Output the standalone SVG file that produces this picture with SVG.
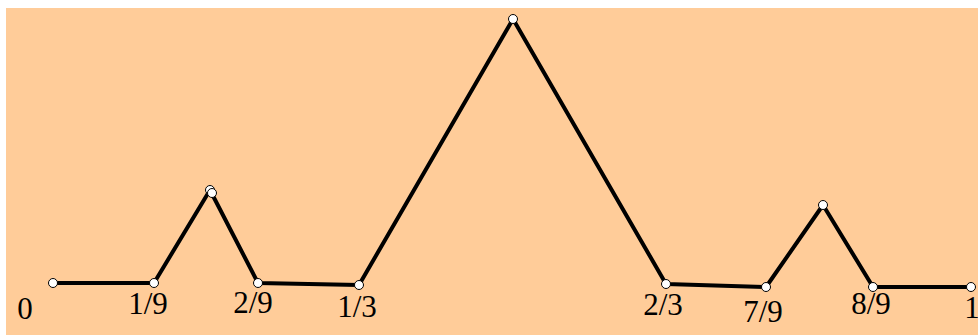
<svg xmlns="http://www.w3.org/2000/svg" width="978" height="335" viewBox="0 0 978 335">
<style>
.lbl{font-family:"Liberation Serif","Times New Roman",serif;font-size:31px;fill:#000;text-anchor:middle}
.pt{fill:#fff;stroke:#000;stroke-width:1}
.ln{fill:none;stroke:#000;stroke-width:4;stroke-linejoin:round}
</style>
<rect x="6" y="8" width="972" height="327" fill="#ffcc99"/>
<g id="connectors">
<polyline class="ln" points="53,283 154,283 210,190 258,283 359,285 513,19 666,284 766,287 823,205 873,287 971,287"/>
</g>
<g id="n0"><circle class="pt" cx="53" cy="283" r="4.5"/><text class="lbl" x="25" y="319">0</text></g>
<g id="n1"><circle class="pt" cx="154" cy="283" r="4.5"/><text class="lbl" x="148" y="314">1/9</text></g>
<g id="p1"><circle class="pt" cx="210" cy="190" r="4.5"/><circle class="pt" cx="212" cy="193" r="4.5"/></g>
<g id="n2"><circle class="pt" cx="258" cy="283" r="4.5"/><text class="lbl" x="253" y="313">2/9</text></g>
<g id="n3"><circle class="pt" cx="359" cy="285" r="4.5"/><text class="lbl" x="357" y="317">1/3</text></g>
<g id="p2"><circle class="pt" cx="513" cy="19" r="4.5"/></g>
<g id="n4"><circle class="pt" cx="666" cy="284" r="4.5"/><text class="lbl" x="663" y="315">2/3</text></g>
<g id="n5"><circle class="pt" cx="766" cy="287" r="4.5"/><text class="lbl" x="763" y="322">7/9</text></g>
<g id="p3"><circle class="pt" cx="823" cy="205" r="4.5"/></g>
<g id="n6"><circle class="pt" cx="873" cy="287" r="4.5"/><text class="lbl" x="871" y="314">8/9</text></g>
<g id="n7"><circle class="pt" cx="971" cy="287" r="4.5"/><text class="lbl" x="972" y="318">1</text></g>
</svg>
